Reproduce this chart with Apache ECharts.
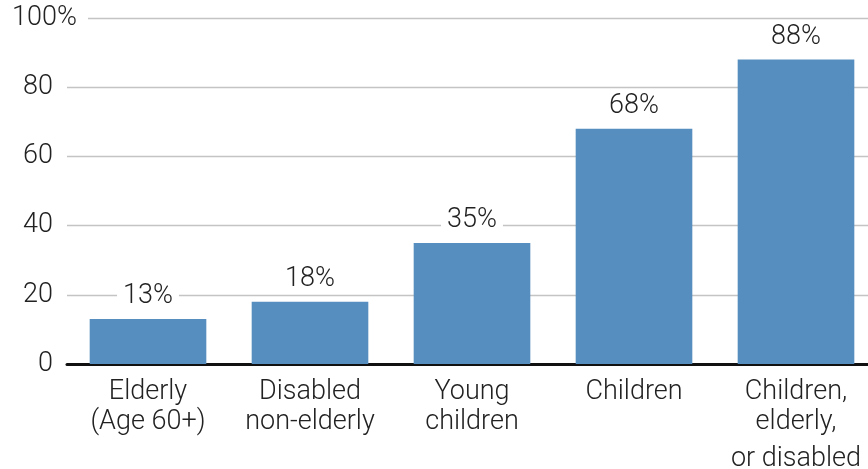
<!DOCTYPE html>
<html><head><meta charset="utf-8">
<script src="https://cdn.jsdelivr.net/npm/echarts@6/dist/echarts.min.js"></script>
<style>html,body{margin:0;padding:0;background:#fff}#c{width:868px;height:469px}</style>
</head><body><div id="c"></div>
<script>
const categories = ["Elderly\n(Age 60+)", "Disabled\nnon-elderly", "Young\nchildren", "Children", "Children,\nelderly,\nor disabled"];
const values = [13, 18, 35, 68, 88];
const yTicks = [0, 20, 40, 60, 80, 100];

const FONT = 'Roboto';
const chart = echarts.init(document.getElementById('c'));
chart.setOption({
  animation: false,
  grid: { left: 67, top: 18, width: 810, bottom: 105, containLabel: false, outerBoundsMode: 'none' },
  xAxis: {
    type: 'category',
    data: categories,
    axisTick: { show: false },
    axisLine: { lineStyle: { color: '#111', width: 3 } },
    axisLabel: {
      fontFamily: FONT, fontWeight: 300, fontSize: 27, color: '#222', lineHeight: 30, margin: 13, interval: 0,
      formatter: function (v) {
        const lines = v.split('\n');
        if (lines.length > 2) {
          return lines.slice(0, 2).join('\n') + '\n{b|' + lines.slice(2).join('\n') + '}';
        }
        return v;
      },
      rich: { b: { fontFamily: FONT, fontWeight: 300, fontSize: 27, color: '#222', lineHeight: 44 } }
    }
  },
  yAxis: {
    type: 'value', min: 0, max: 100, interval: 20,
    axisLine: { show: false }, axisTick: { show: false },
    splitLine: { lineStyle: { color: '#c4c4c4', width: 1.3 } },
    axisLabel: {
      margin: -21,
      formatter: v => v === yTicks[yTicks.length - 1] ? '{n|' + v + '}{p|%}' : '{n|' + v + '}{q|}',
      rich: {
        n: { fontFamily: FONT, fontWeight: 300, fontSize: 27, color: '#222', backgroundColor: '#fff' },
        p: { fontFamily: FONT, fontWeight: 300, fontSize: 27, color: '#222', backgroundColor: '#fff', padding: [0, 11, 0, 0] },
        q: { width: 35 }
      }
    }
  },
  series: [{
    type: 'bar',
    data: values,
    barCategoryGap: '28%',
    itemStyle: { color: '#568fbf' },
    label: {
      show: true, position: 'top', distance: 9,
      formatter: '{c}%',
      fontFamily: FONT, fontWeight: 300, fontSize: 27, color: '#222',
      backgroundColor: '#fff', padding: [0, 6, 0, 6]
    }
  }]
});
</script></body></html>
